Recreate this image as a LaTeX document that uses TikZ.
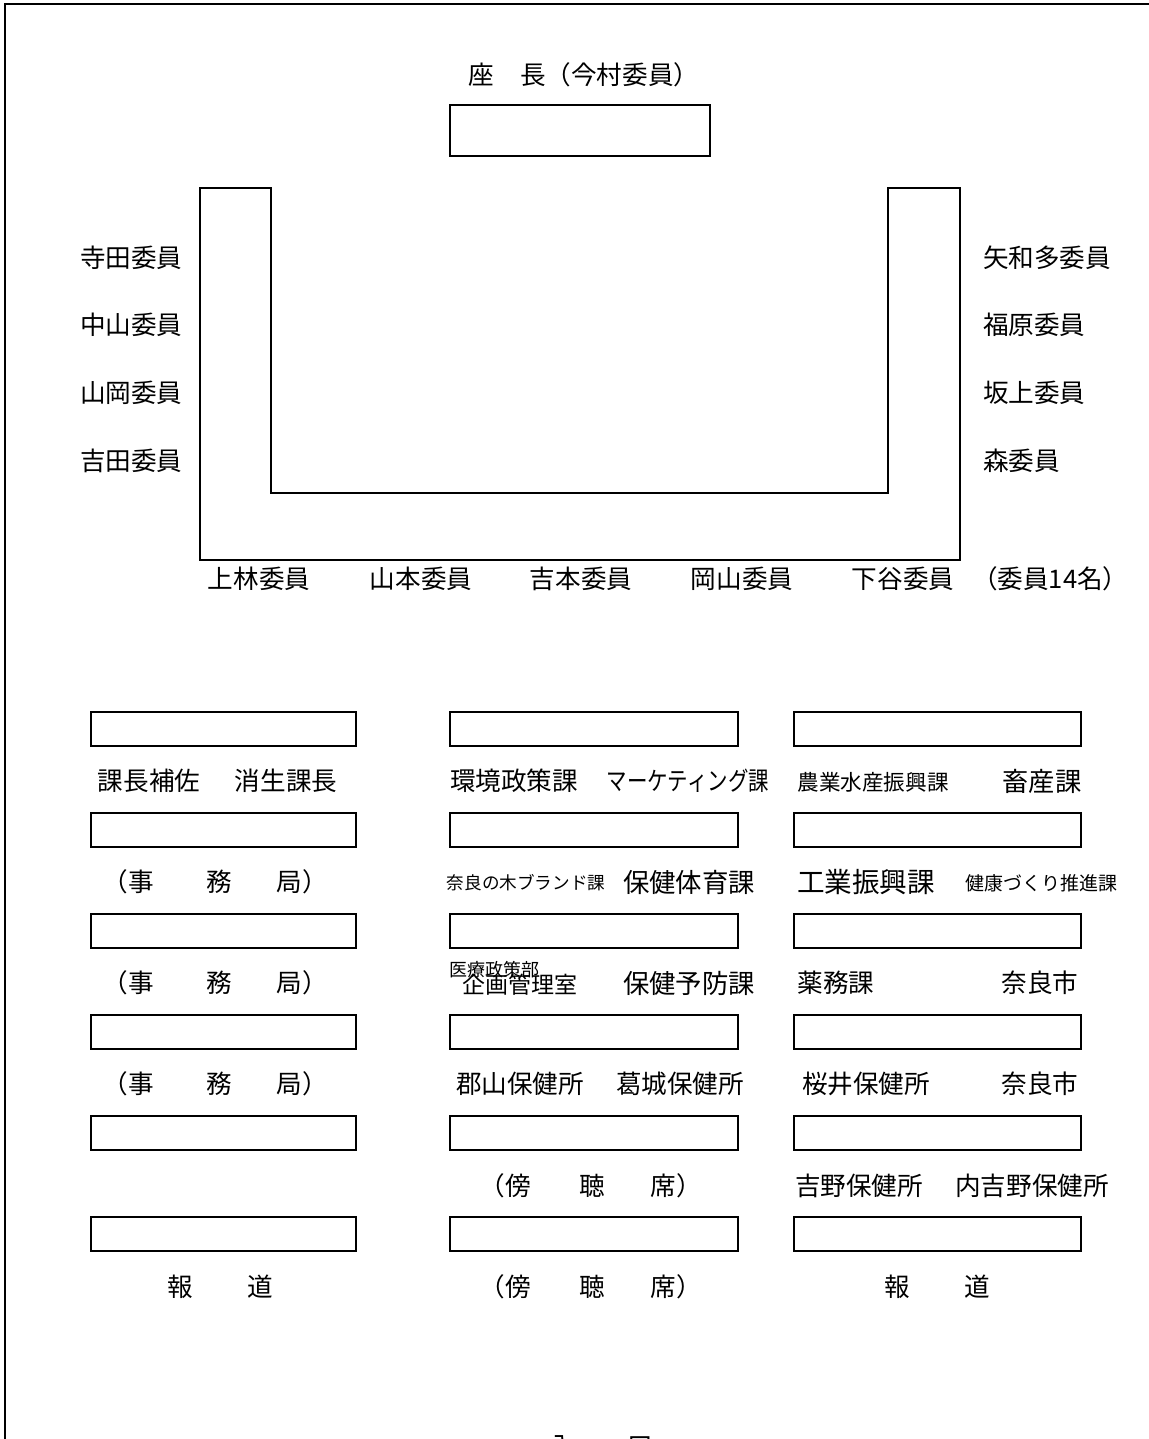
\documentclass[tikz,border=0pt]{standalone}
\usepackage{fontspec}
\usepackage{graphicx}
\newfontfamily\jp{Noto Sans CJK JP}
\newcommand{\fs}[1]{\fontsize{#1}{#1}\selectfont}
\tikzset{
  txt/.style={inner sep=0pt, outer sep=0pt, font=\jp\fs{12.8}},
  seat/.style={draw=black, line width=0.8pt},
  desk/.style={draw=black, line width=0.8pt, minimum width=#1, minimum height=17pt, inner sep=0pt},
}
\begin{document}
\begin{tikzpicture}[x=0.5pt,y=-0.5pt]
\useasboundingbox (0,0) rectangle (1149,1439);
\clip (0,0) rectangle (1149,1439);
% page frame
\draw[line width=1.1pt] (5,1439) coordinate (fbl) -- (5,4) coordinate (ftl) -- (1149,4) coordinate (ftr);

% chair
\node[txt] (chairlbl) at (584,75) {座　長（今村委員）};
\draw[seat] (450,105) rectangle (710,156);

% U table
\draw[seat] (200,188) -- (271,188) -- (271,493) -- (888,493) -- (888,188) -- (960,188) -- (960,560) -- (200,560) -- cycle;

% left members
\node[txt,anchor=west] (l1) at (80,258) {寺田委員};
\node[txt,anchor=west] (l2) at (80,325) {中山委員};
\node[txt,anchor=west] (l3) at (80,393) {山岡委員};
\node[txt,anchor=west] (l4) at (80,461) {吉田委員};
% right members
\node[txt,anchor=west] (r1) at (983,258) {矢和多委員};
\node[txt,anchor=west] (r2) at (983,325) {福原委員};
\node[txt,anchor=west] (r3) at (983,393) {坂上委員};
\node[txt,anchor=west] (r4) at (983,461) {森委員};
% bottom members
\node[txt] (b1) at (259,579) {上林委員};
\node[txt] (b2) at (421,579) {山本委員};
\node[txt] (b3) at (581,579) {吉本委員};
\node[txt] (b4) at (742,579) {岡山委員};
\node[txt] (b5) at (903,579) {下谷委員};
\node[txt,anchor=west] (b6) at (972,579) {（委員14名）};

% desks
\foreach \r/\y in {1/729,2/830,3/931,4/1032,5/1133,6/1234}{
  \node[desk=132.5pt] (c1r\r) at (223.5,\y) {};
  \node[desk=144pt] (c2r\r) at (594,\y) {};
  \node[desk=143.5pt] (c3r\r) at (937.5,\y) {};
}

% column 1 labels
\node[txt] (a1) at (149,781) {課長補佐};
\node[txt] (a2) at (286,781) {消生課長};
\foreach \n/\y in {1/882,2/983,3/1084}{
  \node[txt] (ja\n) at (128,\y) {（事};
  \node[txt] (jb\n) at (219,\y) {務};
  \node[txt] (jc\n) at (302,\y) {局）};
}
\node[txt] (ha1) at (180,1287) {報};
\node[txt] (hb1) at (260,1287) {道};

% column 2 labels
\node[txt] (d1) at (514,781) {環境政策課};
\node[txt] (d2) at (688,781) {\scalebox{0.8}[1]{マーケティング課}};
\node[txt,font=\jp\fs{8.8}] (d3) at (526,883) {奈良の木ブランド課};
\node[txt,font=\jp\fs{13.2}] (d4) at (689,882) {保健体育課};
\node[txt,font=\jp\fs{9}] (d5) at (494,970) {医療政策部};
\node[txt,font=\jp\fs{11.5}] (d6) at (520,985) {企画管理室};
\node[txt,font=\jp\fs{13.2}] (d7) at (689,983) {保健予防課};
\node[txt] (d8) at (520,1084) {郡山保健所};
\node[txt] (d9) at (680,1084) {葛城保健所};
\foreach \n/\y in {1/1186,2/1287}{
  \node[txt] (ka\n) at (505,\y) {（傍};
  \node[txt] (kb\n) at (592,\y) {聴};
  \node[txt] (kc\n) at (676,\y) {席）};
}

% column 3 labels
\node[txt,font=\jp\fs{10.8}] (e1) at (873,782) {農業水産振興課};
\node[txt,font=\jp\fs{13.2}] (e2) at (1042,781) {畜産課};
\node[txt,font=\jp\fs{13.8}] (e3) at (866,882) {工業振興課};
\node[txt,font=\jp\fs{9.5}] (e4) at (1041,883) {健康づくり推進課};
\node[txt] (e5) at (836,983) {薬務課};
\node[txt] (e6) at (1040,983) {奈良市};
\node[txt] (e7) at (866,1084) {桜井保健所};
\node[txt] (e8) at (1040,1084) {奈良市};
\node[txt] (e9) at (859,1186) {吉野保健所};
\node[txt] (e10) at (1032,1186) {内吉野保健所};
\node[txt] (ha2) at (897,1287) {報};
\node[txt] (hb2) at (977,1287) {道};

% entrance (cut off at the bottom edge)
\node[txt] (ent1) at (562,1447) {入};
\node[txt] (ent2) at (640,1447) {口};
\end{tikzpicture}
\end{document}
